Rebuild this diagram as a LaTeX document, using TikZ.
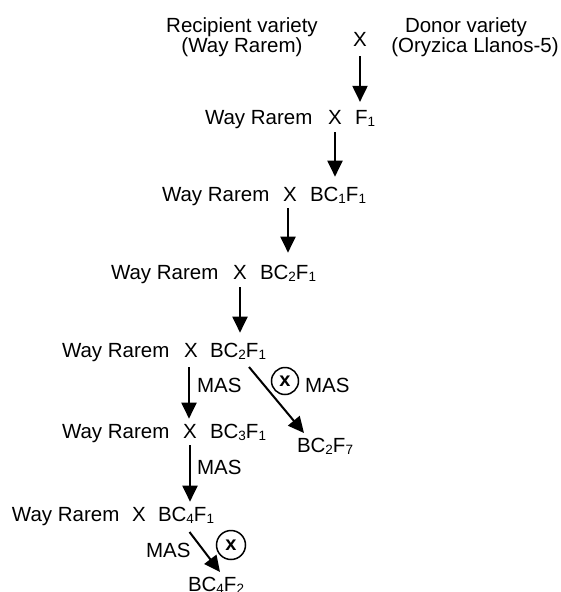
\documentclass[tikz,border=0pt]{standalone}
\usepackage{fontspec}
\setmainfont{Liberation Sans}
\usetikzlibrary{arrows.meta}
\newcommand\sbs[1]{\raisebox{-2.8pt}{\fontsize{13.5}{13.5}\selectfont #1}}
\begin{document}
\begin{tikzpicture}[x=1pt,y=-1pt,
  txt/.style={inner sep=0pt,outer sep=0pt,font=\fontsize{20.5}{24}\selectfont},
  lw/.style={txt,anchor=base west},
  xc/.style={txt,anchor=base},
  arr/.style={line width=2pt,-{Triangle[width=15pt,length=16pt]}},
  selfc/.style={draw,circle,line width=1.5pt,inner sep=0pt,font=\fontsize{20}{20}\bfseries\selectfont}]
\useasboundingbox (0,0) rectangle (561,592);
% top
\node[xc] (rec1) at (242,32) {Recipient variety};
\node[xc] (rec2) at (242,52) {(Way Rarem)};
\node[xc] (don1) at (466,32) {Donor variety};
\node[xc] (don2) at (475,52) {(Oryzica Llanos-5)};
\node[xc] (x0) at (360,46) {X};
% row 1
\node[lw] (w1) at (205,124) {Way Rarem};
\node[xc] (x1) at (335,124) {X};
\node[lw] (g1) at (355,124) {F\sbs{1}};
% row 2
\node[lw] (w2) at (162,201) {Way Rarem};
\node[xc] (x2) at (290,201) {X};
\node[lw] (g2) at (310,201) {BC\sbs{1}F\sbs{1}};
% row 3
\node[lw] (w3) at (111,279) {Way Rarem};
\node[xc] (x3) at (240,279) {X};
\node[lw] (g3) at (260,279) {BC\sbs{2}F\sbs{1}};
% row 4
\node[lw] (w4) at (62,357) {Way Rarem};
\node[xc] (x4) at (191,357) {X};
\node[lw] (g4) at (210,357) {BC\sbs{2}F\sbs{1}};
% row 5
\node[lw] (w5) at (62,438) {Way Rarem};
\node[xc] (x5) at (190,438) {X};
\node[lw] (g5) at (210,438) {BC\sbs{3}F\sbs{1}};
% row 6
\node[lw] (w6) at (12,521) {Way Rarem};
\node[xc] (x6) at (139,521) {X};
\node[lw] (g6) at (158,521) {BC\sbs{4}F\sbs{1}};
% side products
\node[lw] (g7) at (297,452) {BC\sbs{2}F\sbs{7}};
\node[lw] (g8) at (188,591) {BC\sbs{4}F\sbs{2}};
% labels
\node[lw] (m1) at (197,392) {MAS};
\node[lw] (m2) at (305,392) {MAS};
\node[lw] (m3) at (197,474) {MAS};
\node[lw] (m4) at (146,557) {MAS};
\node[selfc,minimum size=27pt] (s1) at (285,381) {x};
\node[selfc,minimum size=29pt] (s2) at (231,545) {x};
% arrows
\draw[arr,shorten <=10pt,shorten >=8pt] (x0.south) -- (x0.south |- g1.north);
\draw[arr,shorten <=8pt,shorten >=10pt] (x1.south) -- (x1.south |- g2.north);
\draw[arr,shorten <=7pt,shorten >=12pt] ([xshift=-2pt]x2.south) -- ([xshift=-2pt]x2.south |- g3.north);
\draw[arr,shorten <=8pt,shorten >=10pt] (x3.south) -- (x3.south |- g4.north);
\draw[arr,shorten <=10pt,shorten >=5pt] ([xshift=-2pt]x4.south) -- ([xshift=-2pt]x4.south |- g5.north);
\draw[arr,shorten <=7pt,shorten >=5pt] (x5.south) -- (x5.south |- g6.north);
\draw[arr] ([xshift=11pt,yshift=-10pt]g4.base) -- ([xshift=-21pt,yshift=19pt]g7.base);
\draw[arr] ([xshift=3.5pt,yshift=-11pt]g6.base) -- ([xshift=4pt,yshift=19pt]g8.base);
\end{tikzpicture}
\end{document}
